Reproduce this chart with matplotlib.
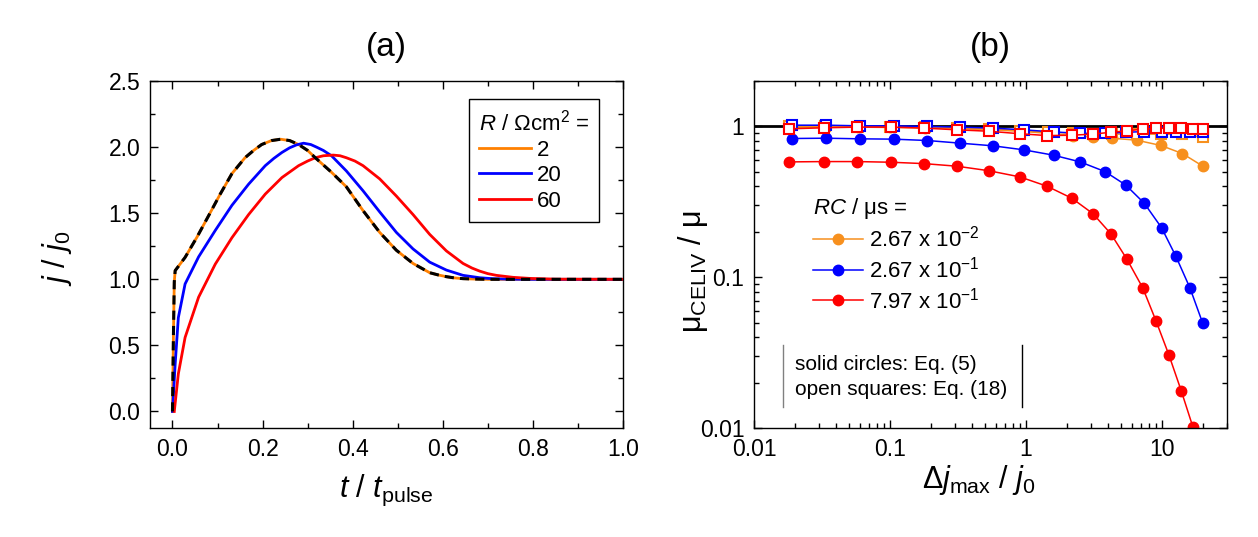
import numpy as np
import matplotlib
matplotlib.use("Agg")
import matplotlib.pyplot as plt
from matplotlib.lines import Line2D

plt.rcParams['font.family'] = ['Liberation Sans', 'DejaVu Sans']
plt.rcParams['mathtext.fontset'] = 'custom'
plt.rcParams['mathtext.rm'] = 'Liberation Sans'
plt.rcParams['mathtext.it'] = 'Liberation Sans:italic'
plt.rcParams['mathtext.bf'] = 'Liberation Sans:bold'

# ---- panel (a): transients j/j0 vs t/tpulse ----
t_r2 = [0.0, 0.002, 0.004, 0.006, 0.028, 0.054, 0.080, 0.106, 0.132, 0.161, 0.180, 0.198, 0.220, 0.240,
        0.260, 0.280, 0.300, 0.317, 0.353, 0.386, 0.423, 0.460, 0.497, 0.534, 0.571, 0.590, 0.608,
        0.625, 0.645, 0.67, 0.70, 0.80, 1.0]
j_r2 = [0.0, 0.55, 0.98, 1.066, 1.166, 1.317, 1.48, 1.645, 1.80, 1.92, 1.975, 2.02, 2.05, 2.06,
        2.05, 2.02, 1.975, 1.92, 1.81, 1.70, 1.52, 1.355, 1.22, 1.12, 1.05, 1.033, 1.02,
        1.011, 1.005, 1.002, 1.0, 1.0, 1.0]

t_r20 = [0.0, 0.006, 0.013, 0.028, 0.058, 0.095, 0.132, 0.169, 0.206, 0.225, 0.243, 0.260, 0.275, 0.291,
         0.307, 0.320, 0.335, 0.353, 0.386, 0.423, 0.460, 0.497, 0.534, 0.571, 0.608, 0.645, 0.682,
         0.710, 0.75, 0.80, 1.0]
j_r20 = [0.0, 0.36, 0.71, 0.965, 1.17, 1.37, 1.56, 1.72, 1.86, 1.915, 1.96, 1.995, 2.017, 2.03,
         2.02, 2.0, 1.975, 1.935, 1.82, 1.67, 1.51, 1.355, 1.23, 1.13, 1.07, 1.03, 1.012,
         1.005, 1.001, 1.0, 1.0]

t_r60 = [0.004, 0.013, 0.028, 0.058, 0.095, 0.132, 0.169, 0.206, 0.243, 0.280, 0.300, 0.317, 0.335, 0.357,
         0.372, 0.386, 0.405, 0.423, 0.460, 0.497, 0.534, 0.571, 0.608, 0.645, 0.665, 0.682, 0.700,
         0.719, 0.756, 0.793, 0.85, 1.0]
j_r60 = [0.0, 0.285, 0.56, 0.865, 1.115, 1.315, 1.49, 1.645, 1.77, 1.86, 1.895, 1.92, 1.935, 1.94,
         1.935, 1.92, 1.895, 1.86, 1.76, 1.63, 1.49, 1.34, 1.215, 1.12, 1.085, 1.062, 1.043,
         1.03, 1.015, 1.007, 1.001, 1.0]

r_labels = ['2', '20', '60']

# ---- panel (b): mobility ratio vs dj_max/j0 ----
x_orange = [0.018, 0.033, 0.058, 0.10, 0.18, 0.31, 0.53, 0.9, 1.45, 2.2, 3.1, 4.3, 6.5, 9.8, 14.1, 19.8]
circ_orange = [0.99, 0.99, 0.99, 0.985, 0.98, 0.97, 0.95, 0.93, 0.90, 0.87, 0.85, 0.836, 0.811, 0.748, 0.661, 0.547]
sq_orange = [1.0, 1.0, 0.995, 0.99, 0.985, 0.975, 0.96, 0.94, 0.92, 0.90, 0.89, 0.89, 0.89, 0.889, 0.889, 0.845]

x_blue = [0.0189, 0.0338, 0.060, 0.106, 0.188, 0.327, 0.572, 0.96, 1.59, 2.5, 3.8, 5.4, 7.4, 9.9, 12.6, 16.0, 19.8]
circ_blue = [0.832, 0.836, 0.828, 0.824, 0.807, 0.775, 0.744, 0.700, 0.645, 0.582, 0.502, 0.409,
             0.309, 0.213, 0.138, 0.085, 0.050]
sq_blue = [1.02, 1.02, 1.01, 1.01, 1.0, 0.99, 0.975, 0.95, 0.92, 0.90, 0.90, 0.915, 0.925, 0.925, 0.925, 0.925, 0.925]

x_red = [0.018, 0.0327, 0.0575, 0.102, 0.178, 0.31, 0.53, 0.9, 1.43, 2.17, 3.1, 4.2, 5.5, 7.2, 9.0,
         11.2, 13.8, 16.8, 19.9]
circ_red = [0.582, 0.585, 0.585, 0.579, 0.567, 0.545, 0.509, 0.463, 0.401, 0.334, 0.264, 0.194, 0.132,
            0.085, 0.0515, 0.0306, 0.0177, 0.0102]
sq_red = [0.965, 0.98, 0.99, 0.99, 0.975, 0.95, 0.93, 0.895, 0.87, 0.875, 0.89, 0.915, 0.935, 0.96, 0.97,
          0.975, 0.97, 0.965, 0.955]

rc_labels = ['2.67 x 10$^{-2}$', '2.67 x 10$^{-1}$', '7.97 x 10$^{-1}$']

orange = '#FF8000'
orange_b = '#F7901E'
blue = '#0000FF'
red = '#FF0000'

fig = plt.figure(figsize=(12.58, 5.37), dpi=100)
axa = fig.add_axes([0.1192, 0.203, 0.376, 0.646])
axb = fig.add_axes([0.5994, 0.203, 0.376, 0.646])

# panel a
axa.plot(t_r2, j_r2, color=orange, lw=2, label=r_labels[0])
axa.plot(t_r20, j_r20, color=blue, lw=2, label=r_labels[1])
axa.plot(t_r60, j_r60, color=red, lw=2, label=r_labels[2])
axa.plot(t_r2, j_r2, color='black', lw=2.2, ls=(0, (3, 2)))
axa.set_xlim(-0.05, 1.0)
axa.set_ylim(-0.125, 2.5)
axa.set_xticks(np.arange(0, 1.01, 0.2))
axa.set_xticks(np.arange(0, 1.01, 0.1), minor=True)
axa.set_yticks(np.arange(0, 2.51, 0.5))
axa.set_yticks(np.arange(0, 2.51, 0.25), minor=True)
axa.xaxis.set_major_formatter(matplotlib.ticker.FormatStrFormatter('%.1f'))
axa.yaxis.set_major_formatter(matplotlib.ticker.FormatStrFormatter('%.1f'))
axa.set_xlabel(r'$t$ / $t_\mathrm{pulse}$', fontsize=22, labelpad=9)
axa.set_ylabel(r'$j$ / $j_0$', fontsize=22)
axa.yaxis.set_label_coords(-0.16, 0.49)
axa.set_title('(a)', fontsize=24, pad=18)
leg = axa.legend(loc='upper right', bbox_to_anchor=(0.95, 0.947), borderaxespad=0, fontsize=16,
                 title=r'$R$ / $\Omega$cm$^2$ =', title_fontsize=16, fancybox=False,
                 edgecolor='black', framealpha=1, handlelength=2.35, borderpad=0.45,
                 labelspacing=0.2, handletextpad=0.25, alignment='left')
leg.get_frame().set_linewidth(1)

# panel b
axb.axhline(1, color='black', lw=2, zorder=1)
for xs, yc, col, lab in [(x_orange, circ_orange, orange_b, rc_labels[0]),
                         (x_blue, circ_blue, blue, rc_labels[1]),
                         (x_red, circ_red, red, rc_labels[2])]:
    axb.plot(xs[:len(yc)], yc, color=col, lw=1.1, marker='o', ms=7.5, mec=col, mfc=col,
             label=lab, zorder=2)
for xs, ys, col in [(x_orange, sq_orange, orange_b), (x_blue, sq_blue, blue), (x_red, sq_red, red)]:
    axb.plot(xs, ys, color=col, lw=1.1, marker='s', ms=7.5, mec=col, mfc='white',
             mew=1.5, zorder=3)
axb.set_xscale('log')
axb.set_yscale('log')
axb.set_xlim(0.01, 30)
axb.set_ylim(0.01, 2)
axb.set_xticks([0.01, 0.1, 1, 10])
axb.set_xticklabels(['0.01', '0.1', '1', '10'])
axb.set_yticks([0.01, 0.1, 1])
axb.set_yticklabels(['0.01', '0.1', '1'])
axb.set_xlabel(r'$\Delta j_\mathrm{max}$ / $j_0$', fontsize=22, labelpad=9)
axb.xaxis.set_label_coords(0.475, -0.1)
axb.xaxis.label.set_va('top')
axb.set_ylabel(r'$\mathrm{\mu}_\mathrm{CELIV}$ / $\mathrm{\mu}$', fontsize=22)
axb.yaxis.set_label_coords(-0.093, 0.45)
axb.set_title('(b)', fontsize=24, pad=18)
legb = axb.legend(loc='upper left', bbox_to_anchor=(0.083, 0.727), fontsize=16, frameon=False,
                  title=r'$RC$ / μs =', title_fontsize=16, handlelength=2.25,
                  labelspacing=0.22, handletextpad=0.25, alignment='left')

axb.text(0.087, 0.147, 'solid circles: Eq. (5)\nopen squares: Eq. (18)', transform=axb.transAxes,
         fontsize=15, va='center', ha='left', linespacing=1.45)
axb.add_line(Line2D([0.061, 0.061], [0.061, 0.239], transform=axb.transAxes, color='gray', lw=1))
axb.add_line(Line2D([0.566, 0.566], [0.061, 0.239], transform=axb.transAxes, color='black', lw=1))

for ax in (axa, axb):
    ax.tick_params(which='both', direction='in', top=True, right=True, labelsize=16.5, pad=7)
    ax.tick_params(which='major', length=6, width=1)
    ax.tick_params(which='minor', length=3.5, width=1)
    for s in ax.spines.values():
        s.set_linewidth(1)

fig.savefig('out.png', dpi=100)
